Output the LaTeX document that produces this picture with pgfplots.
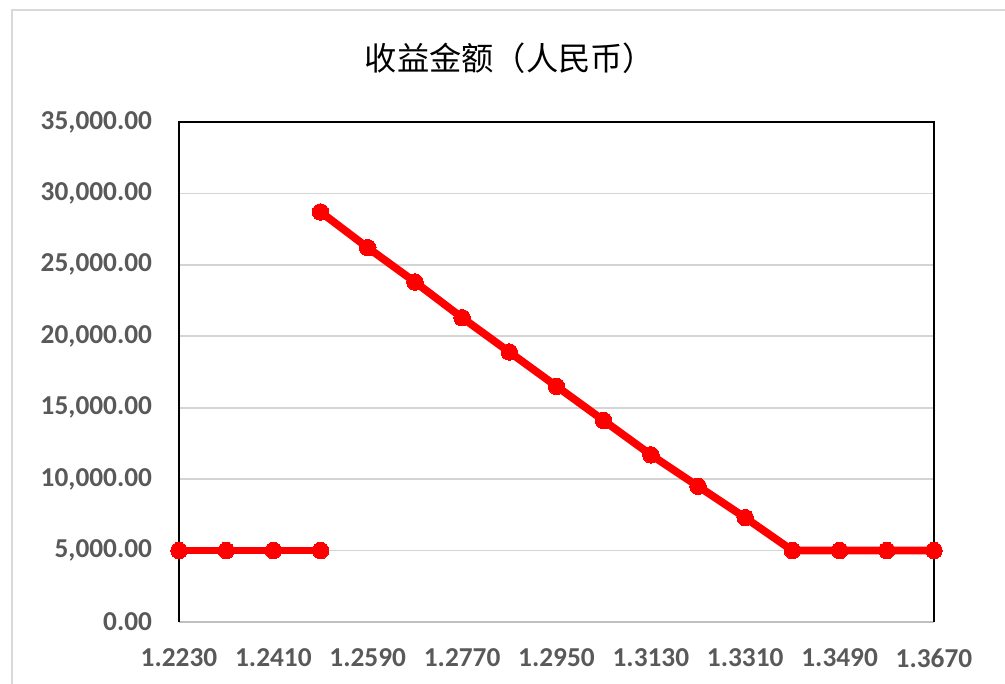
\documentclass[border=0pt]{standalone}
\usepackage{pgfplots}
\pgfplotsset{compat=1.18}
\usepackage{fontspec}
\setmainfont{Carlito}
\newfontfamily\cjk{Noto Sans CJK SC}
\definecolor{tickgray}{HTML}{595959}
\definecolor{gridgray}{HTML}{D4D4D4}
\definecolor{axgray}{HTML}{BFBFBF}
\definecolor{outergray}{HTML}{D9D9D9}
\definecolor{seriesred}{HTML}{FF0000}
\begin{document}
\begin{tikzpicture}
\useasboundingbox (0,0) rectangle (753.75pt,513pt);
\draw[outergray, line width=1.6pt] (9pt,-20pt) -- (9pt,505.5pt) -- (780pt,505.5pt);
\node[font=\cjk\fontsize{24.2}{28}\selectfont, text=black] at (382.5pt,469.5pt) {收益金额（人民币）};
\begin{axis}[
  at={(134.25pt,46.5pt)}, anchor=south west,
  scale only axis, width=566.25pt, height=375pt,
  xmin=0, xmax=16, ymin=0, ymax=35000,
  xtick={0,2,...,16},
  xticklabels={1.2230,1.2410,1.2590,1.2770,1.2950,1.3130,1.3310,1.3490,1.3670},
  ytick={0,5000,...,35000},
  major tick length=0pt,
  axis line style={draw=none},
  ymajorgrids, grid style={gridgray, line width=1.3pt},
  /pgf/number format/assume math mode=true,
  yticklabel={\pgfmathprintnumber[fixed, fixed zerofill, precision=2, 1000 sep={,}]{\tick}},
  scaled y ticks=false,
  ticklabel style={font=\fontsize{20.5}{24}\selectfont\bfseries, text=tickgray},
  yticklabel style={anchor=east, inner sep=0pt, xshift=-20pt},
  xticklabel style={anchor=center, inner sep=0pt, yshift=-27pt},
  clip=false,
]
\draw[axgray, line width=1.5pt] (rel axis cs:0,0) -- (rel axis cs:1,0);
\draw[black, line width=1.3pt] (rel axis cs:0,0) -- (rel axis cs:0,1) -- (rel axis cs:1,1) -- (rel axis cs:1,0);
\addplot[seriesred, line width=5.8pt, line join=round, mark=*, mark size=6.2pt, mark options={fill=seriesred, draw=seriesred, line width=0pt}]
  coordinates {(0,5000)(1,5000)(2,5000)(3,5000)};
\addplot[seriesred, line width=5.8pt, line join=round, mark=*, mark size=6.2pt, mark options={fill=seriesred, draw=seriesred, line width=0pt}]
  coordinates {(3,28700)(4,26200)(5,23800)(6,21300)(7,18900)(8,16500)(9,14100)(10,11700)(11,9500)(12,7300)(13,5000)(14,5000)(15,5000)(16,5000)};
\end{axis}
\end{tikzpicture}
\end{document}
